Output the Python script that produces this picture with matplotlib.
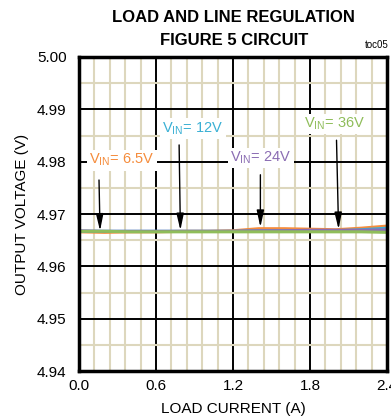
import matplotlib
matplotlib.use("Agg")
import matplotlib.pyplot as plt
from matplotlib.ticker import MultipleLocator

FONT = ['Liberation Sans Narrow', 'Liberation Sans', 'DejaVu Sans']
plt.rcParams['font.family'] = FONT

# Data
load_current = [0.0, 0.2, 0.4, 0.6, 0.8, 1.0, 1.2, 1.4, 1.6, 1.8, 2.0, 2.2, 2.4]
v_6p5 = [4.9666, 4.9665, 4.9666, 4.9666, 4.9667, 4.9667, 4.9668, 4.9672, 4.9672, 4.9671, 4.9670, 4.9673, 4.9677]
v_12 = [4.9667, 4.9667, 4.9667, 4.9667, 4.9667, 4.9667, 4.9667, 4.9668, 4.9668, 4.9668, 4.9668, 4.9670, 4.9673]
v_24 = [4.9668, 4.9667, 4.9667, 4.9667, 4.9667, 4.9667, 4.9667, 4.9668, 4.9668, 4.9669, 4.9669, 4.9669, 4.9670]
v_36 = [4.9667, 4.9667, 4.9666, 4.9666, 4.9666, 4.9666, 4.9666, 4.9666, 4.9666, 4.9666, 4.9666, 4.9666, 4.9665]

series = [
    ("6.5V", v_6p5, "#f58c3c"),
    ("12V", v_12, "#3ab0d4"),
    ("24V", v_24, "#8b6db3"),
    ("36V", v_36, "#8fbd5a"),
]

x_ticks = [0.0, 0.6, 1.2, 1.8, 2.4]
x_ticklabels = ["0.0", "0.6", "1.2", "1.8", "2.4"]
y_ticks = [4.94, 4.95, 4.96, 4.97, 4.98, 4.99, 5.00]
y_ticklabels = ["4.94", "4.95", "4.96", "4.97", "4.98", "4.99", "5.00"]

# label text pos (left x, center y), arrow start and tip, in data coords
label_pos = [(0.08, 4.9803), (0.65, 4.9864), (1.18, 4.9807), (1.75, 4.9872)]
arrow_start = [(0.156, 4.9765), (0.78, 4.9832), (1.413, 4.9775), (2.006, 4.9841)]
arrow_tip = [(0.164, 4.9668), (0.79, 4.9669), (1.413, 4.9675), (2.022, 4.9671)]

fig = plt.figure(figsize=(3.91, 4.16), dpi=100)
ax = fig.add_axes([0.202, 0.108, 0.788, 0.755])

ax.set_xlim(0, 2.4)
ax.set_ylim(4.94, 5.00)

ax.xaxis.set_minor_locator(MultipleLocator(0.12))
ax.yaxis.set_minor_locator(MultipleLocator(0.005))
ax.set_xticks(x_ticks)
ax.set_xticklabels(x_ticklabels)
ax.set_yticks(y_ticks)
ax.set_yticklabels(y_ticklabels)

ax.grid(which='minor', color='#ddd7bd', linewidth=1.5, zorder=0)
ax.grid(which='major', color='black', linewidth=1.4, zorder=1)
ax.set_axisbelow(True)
ax.tick_params(which='both', length=0, labelsize=11, pad=6)
ax.tick_params(axis='y', pad=9)

for sp in ax.spines.values():
    sp.set_linewidth(2.5)
    sp.set_zorder(5)

for name, vals, col in series:
    ax.plot(load_current, vals, color=col, linewidth=2.2, zorder=3, solid_capstyle='butt')

for (name, vals, col), tpos, start, tip in zip(series, label_pos, arrow_start, arrow_tip):
    ax.text(tpos[0], tpos[1], r"V$_{\mathregular{IN}}$= " + name, color=col, fontsize=10.5,
            ha='left', va='center', zorder=6,
            bbox=dict(facecolor='white', edgecolor='none', pad=1.5))
    ax.annotate("", xy=tip, xytext=start,
                arrowprops=dict(arrowstyle='-|>,head_width=0.22,head_length=1.0',
                                color='black', linewidth=1.0, shrinkA=0, shrinkB=0),
                zorder=6)

ax.set_xlabel("LOAD CURRENT (A)", fontsize=11, labelpad=6)
ax.set_ylabel("OUTPUT VOLTAGE (V)", fontsize=11, labelpad=6)

fig.text(0.598, 0.958, "LOAD AND LINE REGULATION", ha='center', va='center',
         fontsize=12, fontweight='bold')
fig.text(0.598, 0.903, "FIGURE 5 CIRCUIT", ha='center', va='center',
         fontsize=12, fontweight='bold')
fig.text(0.995, 0.893, "toc05", ha='right', va='center', fontsize=7)

fig.savefig("out.png", dpi=100)
